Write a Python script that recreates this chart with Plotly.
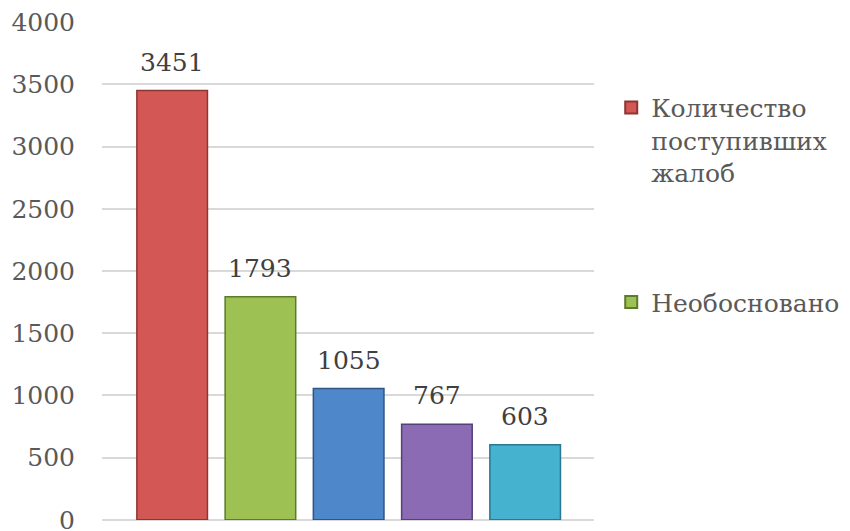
import plotly.graph_objects as go

categories = ["Количество поступивших жалоб", "Необосновано", "Серия 3", "Серия 4", "Серия 5"]
legend_names = ["Количество<br>поступивших<br>жалоб", "Необосновано", "Серия 3", "Серия 4", "Серия 5"]
values = [3451, 1793, 1055, 767, 603]
show_in_legend = [True, True, False, False, False]
fill_colors = ["#D35855", "#9DC153", "#4F87CB", "#8A6BB4", "#45B3D0"]
edge_colors = ["#8E3431", "#5E7A2C", "#2D5586", "#54407A", "#2A7890"]

font_family = "DejaVu Serif"
text_color = "#595959"
fs = 25

fig = go.Figure()
for i, (name, v) in enumerate(zip(legend_names, values)):
    fig.add_trace(go.Bar(
        x=[i], y=[v], name=name,
        width=0.8,
        marker=dict(color=fill_colors[i], line=dict(color=edge_colors[i], width=1.5)),
        showlegend=show_in_legend[i],
        legendgroup="g%d" % i,
    ))
    fig.add_annotation(
        x=i, y=v, text=str(v), showarrow=False,
        xanchor="center", yanchor="bottom", yshift=12,
        font=dict(family=font_family, size=fs, color="#404040"),
    )

fig.update_layout(
    width=842, height=523,
    margin=dict(l=94, r=256, t=14, b=11, autoexpand=False),
    paper_bgcolor="white", plot_bgcolor="white",
    font=dict(family=font_family, size=fs, color=text_color),
    bargap=0.2,
    legend=dict(
        x=1.035, y=0.874, xanchor="left", yanchor="top",
        traceorder="grouped", tracegroupgap=94, valign="top",
        font=dict(family=font_family, size=fs, color=text_color),
        itemsizing="constant",
    ),
    xaxis=dict(range=[-0.795, 4.78], showticklabels=False, showgrid=False,
               zeroline=False, showline=False, ticks="", automargin=False),
    yaxis=dict(range=[-2, 4002], tickvals=[0, 500, 1000, 1500, 2000, 2500, 3000, 3500, 4000],
               showgrid=True, gridcolor="#D9D9D9",
               gridwidth=2, zeroline=True, zerolinecolor="#D9D9D9", zerolinewidth=2,
               showline=False, ticks="", automargin=False, ticklabeloverflow="allow",
               tickfont=dict(family=font_family, size=fs, color=text_color),
               ticklabelstandoff=26),
)

fig.write_html("out.html")
